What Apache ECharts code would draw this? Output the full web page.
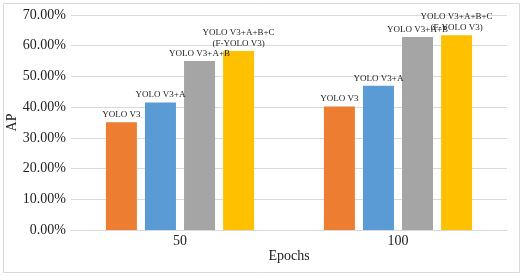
<!DOCTYPE html>
<html>
<head>
<meta charset="utf-8">
<script src="https://cdn.jsdelivr.net/npm/echarts@6/dist/echarts.min.js"></script>
<style>
    html, body { margin: 0; padding: 0; background: #fff; }
    #chart { width: 524px; height: 277px; }
</style>
</head>
<body>
<div id="chart"></div>
<script>
// 横轴分组
const epochs = ['50', '100']
// 各模型名称（柱顶标注）
const models = ['YOLO V3', 'YOLO V3+A', 'YOLO V3+A+B', 'YOLO V3+A+B+C\n(F-YOLO V3)']
// AP 值 (%)，按模型分
const yolo = [35.1, 40.2]
const yoloA = [41.5, 47.0]
const yoloAB = [55.0, 62.8]
const yoloABC = [58.3, 63.4]
const colors = ['#ed7d31', '#5b9bd5', '#a5a5a5', '#ffc000']

const font = 'Liberation Serif, Times New Roman, serif'
const values = [yolo, yoloA, yoloAB, yoloABC]

let series = models.map((name, i) => ({
    name: name,
    type: 'bar',
    barWidth: 31,
    barGap: '26%',
    itemStyle: { color: colors[i] },
    label: {
        show: true,
        position: 'top',
        distance: 2,
        formatter: name,
        fontFamily: font,
        fontSize: 9,
        lineHeight: 11,
        color: '#222'
    },
    data: values[i]
}))

let myChart = echarts.init(document.getElementById('chart'))
myChart.setOption({
    animation: false,
    grid: { left: 71, right: 17, top: 15, bottom: 47, containLabel: false, outerBoundsMode: 'none' },
    graphic: [{
        type: 'rect',
        shape: { x: 3.5, y: 3.5, width: 516, height: 269 },
        style: { fill: 'none', stroke: '#d9d9d9', lineWidth: 1 }
    }],
    xAxis: {
        type: 'category',
        data: epochs,
        name: 'Epochs',
        nameLocation: 'middle',
        nameGap: 19,
        nameMoveOverlap: false,
        nameTextStyle: { fontFamily: font, fontSize: 14, color: '#222' },
        axisLine: { lineStyle: { color: '#d9d9d9' } },
        axisTick: { show: false },
        axisLabel: { fontFamily: font, fontSize: 14, color: '#222', margin: 4 }
    },
    yAxis: {
        type: 'value',
        min: 0,
        max: 70,
        interval: 10,
        name: 'AP',
        nameLocation: 'middle',
        nameGap: 52,
        nameMoveOverlap: false,
        nameTextStyle: { fontFamily: font, fontSize: 14, color: '#222' },
        axisLine: { show: false },
        axisTick: { show: false },
        splitLine: { lineStyle: { color: '#d9d9d9' } },
        axisLabel: {
            fontFamily: font,
            fontSize: 14,
            color: '#222',
            margin: 5,
            formatter: v => v.toFixed(2) + '%'
        }
    },
    series: series
})
</script>
</body>
</html>
